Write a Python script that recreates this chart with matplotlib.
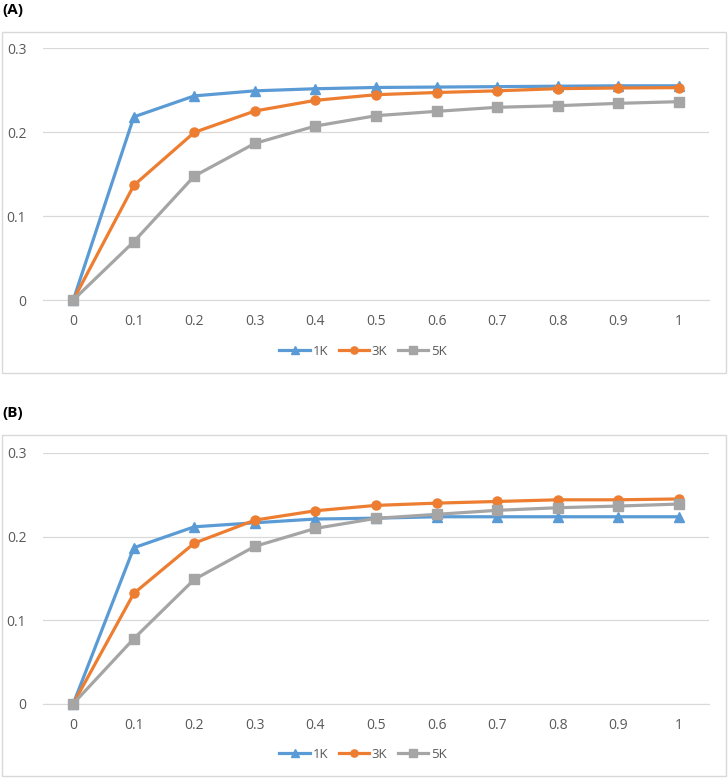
import matplotlib
matplotlib.use("Agg")
import matplotlib.pyplot as plt
from matplotlib.patches import Rectangle

x_labels = ["0", "0.1", "0.2", "0.3", "0.4", "0.5", "0.6", "0.7", "0.8", "0.9", "1"]
series_names = ["1K", "3K", "5K"]

a_1k = [0, 0.218, 0.243, 0.249, 0.2515, 0.253, 0.2535, 0.254, 0.2545, 0.255, 0.255]
a_3k = [0, 0.1365, 0.1996, 0.225, 0.2377, 0.2444, 0.247, 0.249, 0.2516, 0.2524, 0.2528]
a_5k = [0, 0.0694, 0.1476, 0.1865, 0.2071, 0.2194, 0.2246, 0.2294, 0.2313, 0.2341, 0.2361]

b_1k = [0, 0.1866, 0.2117, 0.2165, 0.221, 0.222, 0.2237, 0.2237, 0.2237, 0.2237, 0.2237]
b_3k = [0, 0.132, 0.1922, 0.2197, 0.2309, 0.2373, 0.240, 0.242, 0.244, 0.244, 0.245]
b_5k = [0, 0.0778, 0.1488, 0.1883, 0.2098, 0.2218, 0.2266, 0.2314, 0.2345, 0.2365, 0.2389]

colors = ["#5B9BD5", "#ED7D31", "#A5A5A5"]
markers = ["^", "o", "s"]

W, H = 728, 778
fig = plt.figure(figsize=(W / 100, H / 100), dpi=100)
plt.rcParams["font.family"] = ["Open Sans", "DejaVu Sans"]


def px(x0, y0, x1, y1):
    # pixel box (top-left origin) -> figure fraction rect
    return [x0 / W, 1 - y1 / H, (x1 - x0) / W, (y1 - y0) / H]


def panel(label, box, ax_px, legend_y, data):
    bx0, by0, bx1, by1 = box
    fig.patches.append(Rectangle((bx0 / W, 1 - by1 / H), (bx1 - bx0) / W, (by1 - by0) / H,
                                 transform=fig.transFigure, fill=False, ec="#d9d9d9", lw=1.0))
    fig.text(2 / W, 1 - (by0 - 22) / H, label, fontsize=11, fontweight="bold", va="center", ha="left")
    ax = fig.add_axes(px(*ax_px))
    xs = list(range(len(x_labels)))
    handles = []
    for vals, c, m, n in zip(data, colors, markers, series_names):
        h, = ax.plot(xs, vals, color=c, lw=2.3, marker=m, ms=6.5, label=n, clip_on=False, zorder=3)
        handles.append(h)
    ax.set_xlim(-0.5, len(x_labels) - 0.5)
    ax.set_ylim(0, 0.3)
    ax.set_yticks([0, 0.1, 0.2, 0.3])
    ax.set_yticklabels(["0", "0.1", "0.2", "0.3"])
    ax.set_xticks(xs)
    ax.set_xticklabels(x_labels)
    ax.grid(axis="y", color="#d9d9d9", lw=0.9)
    ax.set_axisbelow(True)
    for s in ["top", "right", "left"]:
        ax.spines[s].set_visible(False)
    ax.spines["bottom"].set_color("#d9d9d9")
    ax.tick_params(length=0, labelsize=10, labelcolor="#595959")
    ax.tick_params(axis="y", pad=12)
    ax.tick_params(axis="x", pad=10)
    fig.legend(handles=handles, loc="center", bbox_to_anchor=(363 / W, 1 - legend_y / H), ncol=3,
               frameon=False, fontsize=9.5, handlelength=2.3, columnspacing=0.8, handletextpad=0.2,
               markerscale=0.8, labelcolor="#595959")


panel("(A)", (2, 32, 726, 373), (43, 48, 709, 300), 351, [a_1k, a_3k, a_5k])
panel("(B)", (2, 435, 726, 776), (43, 453, 709, 703.7), 754, [b_1k, b_3k, b_5k])

fig.savefig("out.png", dpi=100)
